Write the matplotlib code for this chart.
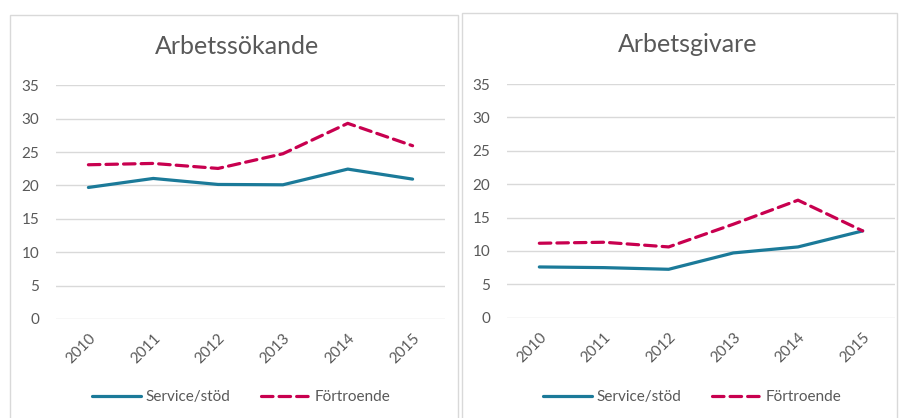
import matplotlib
matplotlib.use("Agg")
import matplotlib.pyplot as plt
from matplotlib.patches import Rectangle

plt.rcParams['font.family'] = ['Lato', 'DejaVu Sans']

years = ["2010", "2011", "2012", "2013", "2014", "2015"]

# Arbetssökande
sokande_service = [19.7, 21.05, 20.15, 20.1, 22.45, 20.95]
sokande_fortroende = [23.1, 23.3, 22.55, 24.75, 29.3, 25.95]

# Arbetsgivare
givare_service = [7.6, 7.5, 7.25, 9.7, 10.6, 13.0]
givare_fortroende = [11.15, 11.3, 10.6, 14.0, 17.6, 13.0]

teal = '#1B7A99'
crimson = '#C8004F'
grid_col = '#D9D9D9'
text_col = '#595959'

W, H = 901, 418
fig = plt.figure(figsize=(W / 100, H / 100), dpi=100)

# panel borders (pixel coords -> figure fraction)
def box(x0, y0, x1, y1):
    return [x0 / W, 1 - y1 / H, (x1 - x0) / W, (y1 - y0) / H]

for (x0, y0, x1, y1) in [(10, 15, 458, 420), (462, 13, 897, 420)]:
    r = box(x0, y0, x1, y1)
    fig.patches.append(Rectangle((r[0], r[1]), r[2], r[3], transform=fig.transFigure,
                                 fill=False, edgecolor=grid_col, linewidth=1))

panels = [
    ("Arbetssökande", sokande_service, sokande_fortroende, (56, 85.3, 445, 319), 237, 47),
    ("Arbetsgivare", givare_service, givare_fortroende, (507, 84, 895, 317.7), 688, 45),
]

for title, serv, fort, (x0, y0, x1, y1), tx, ty in panels:
    ax = fig.add_axes(box(x0, y0, x1, y1))
    xs = range(len(years))
    ax.plot(xs, serv, color=teal, lw=2.3, solid_capstyle='round', label='Service/stöd')
    ax.plot(xs, fort, color=crimson, lw=2.3, dashes=(3.6, 1.9), dash_capstyle='round',
            label='Förtroende')
    ax.set_xlim(-0.5, len(years) - 0.5)
    ax.set_ylim(0, 35)
    ax.set_yticks(range(0, 36, 5))
    ax.set_xticks(list(xs))
    ax.set_xticklabels(years, rotation=45, ha='right', rotation_mode='anchor')
    ax.tick_params(length=0, labelsize=11, colors=text_col, pad=12)
    ax.tick_params(axis='x', pad=9)
    ax.grid(axis='y', color=grid_col, lw=1)
    ax.set_axisbelow(True)
    for s in ax.spines.values():
        s.set_visible(False)
    fig.text(tx / W, 1 - ty / H, title, ha='center', va='center', fontsize=18, color=text_col)
    lx = ((x0 + x1) / 2 - 9) / W
    ax.legend(loc='center', bbox_to_anchor=(lx, 1 - 397 / H), bbox_transform=fig.transFigure,
              ncol=2, frameon=False, fontsize=11, labelcolor=text_col, handlelength=3.2,
              columnspacing=2.0, handletextpad=0.3)

fig.savefig("out.png", dpi=100)
